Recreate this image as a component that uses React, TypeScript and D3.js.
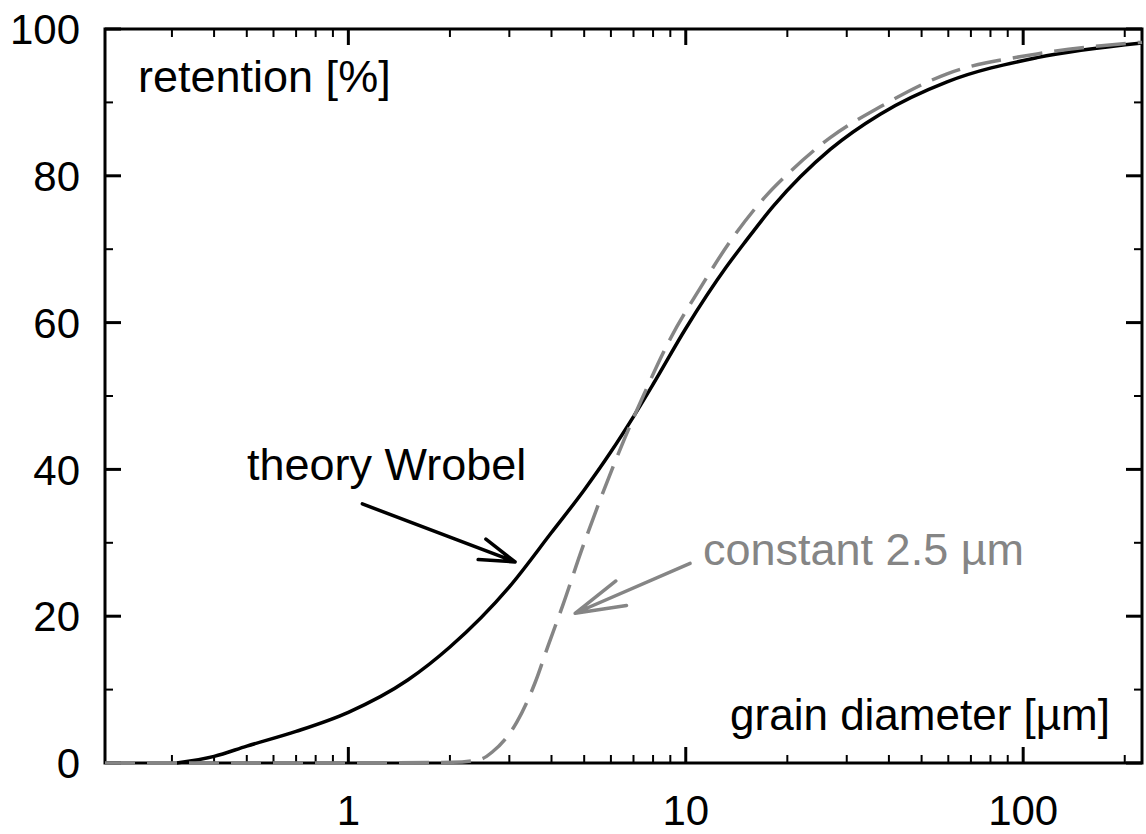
import React, { useEffect, useRef } from 'react';
import * as d3 from 'd3';

// theory Wrobel (solid black)
const wrobelX = [0.31, 0.4, 0.5, 0.7, 1.0, 1.5, 2, 3, 4, 5, 6, 7, 8, 10, 13.2, 15, 18.2, 26.8, 37.7, 59.5, 110, 225];
const wrobelY = [0, 0.9, 2.3, 4.3, 6.9, 11.3, 15.8, 24.0, 31.4, 37.2, 42.4, 47.2, 51.6, 59.2, 67.6, 71.0, 75.9, 83.6, 88.4, 92.8, 96.1, 98.1];

// constant 2.5 µm (dashed grey)
const constX = [0.19, 1.0, 2.04, 2.46, 2.67, 3.16, 3.58, 3.91, 4.33, 4.93, 5.57, 6.6, 7.48, 9.0, 11.0, 13.8, 17.4, 20, 26.8, 37.7, 59.5, 110, 225];
const constY = [0, 0, 0.1, 0.5, 1.5, 5.6, 11.0, 16.0, 21.6, 29.2, 35.8, 44.3, 50.0, 57.8, 64.6, 71.6, 77.4, 80.2, 85.2, 89.4, 93.9, 96.6, 98.2];

const yMajor = [0, 20, 40, 60, 80, 100];
const yMinor = [10, 30, 50, 70, 90];
const xLabels = [1, 10, 100];

// annotation arrows: [startX, startY, tipX, tipY] in data units
const wrobelArrow = [1.1, 35.3, 3.12, 27.4];
const constArrow = [10.3, 27.2, 4.7, 20.4];

const W = 1146;
const H = 834;
const margin = { top: 29, right: 4, bottom: 71, left: 105 };
const FONT = '"Liberation Sans", Arial, sans-serif';
const GREY = '#858585';

const App = () => {
  const svgRef = useRef(null);

  useEffect(() => {
    const svg = d3.select(svgRef.current);
    svg.selectAll('*').remove();

    const x0 = margin.left, x1 = W - margin.right;
    const y0 = H - margin.bottom, y1 = margin.top;

    const x = d3.scaleLog().domain([0.19, 225]).range([x0, x1]);
    const y = d3.scaleLinear().domain([0, 100]).range([y0, y1]);

    const g = svg.append('g');

    // x ticks (top and bottom, pointing inward)
    const xt = x.ticks().filter(v => x(v) > x0 + 12 && x(v) < x1 - 4);
    xt.forEach(v => {
      const major = Math.abs(Math.log10(v) - Math.round(Math.log10(v))) < 1e-9;
      const len = major ? 16 : 8;
      g.append('line').attr('x1', x(v)).attr('x2', x(v)).attr('y1', y0).attr('y2', y0 - len)
        .attr('stroke', '#000').attr('stroke-width', major ? 3 : 2);
      g.append('line').attr('x1', x(v)).attr('x2', x(v)).attr('y1', y1).attr('y2', y1 + len)
        .attr('stroke', '#000').attr('stroke-width', major ? 3 : 2);
    });

    // y ticks (left and right)
    [...yMajor.map(v => [v, 16]), ...yMinor.map(v => [v, 8])].forEach(([v, len]) => {
      const w = len > 10 ? 3 : 2;
      g.append('line').attr('x1', x0).attr('x2', x0 + len).attr('y1', y(v)).attr('y2', y(v))
        .attr('stroke', '#000').attr('stroke-width', w);
      g.append('line').attr('x1', x1).attr('x2', x1 - len).attr('y1', y(v)).attr('y2', y(v))
        .attr('stroke', '#000').attr('stroke-width', w);
    });

    // frame
    g.append('rect').attr('x', x0).attr('y', y1).attr('width', x1 - x0).attr('height', y0 - y1)
      .attr('fill', 'none').attr('stroke', '#000').attr('stroke-width', 3);

    // tick labels
    yMajor.forEach(v => {
      g.append('text').attr('x', 80).attr('y', y(v)).attr('dy', '0.36em')
        .attr('text-anchor', 'end').attr('font-family', FONT).attr('font-size', 42)
        .text(v);
    });
    xLabels.forEach(v => {
      g.append('text').attr('x', x(v)).attr('y', 825)
        .attr('text-anchor', 'middle').attr('font-family', FONT).attr('font-size', 42)
        .text(v);
    });

    // curves
    const line = d3.line()
      .x(d => x(d[0]))
      .y(d => y(d[1]))
      .curve(d3.curveMonotoneX);

    g.append('path')
      .datum(wrobelX.map((v, i) => [v, wrobelY[i]]))
      .attr('fill', 'none').attr('stroke', '#000').attr('stroke-width', 3.5)
      .attr('d', line);

    g.append('path')
      .datum(constX.map((v, i) => [v, constY[i]]))
      .attr('fill', 'none').attr('stroke', GREY).attr('stroke-width', 3.5)
      .attr('stroke-dasharray', '30,12')
      .attr('d', line);

    // annotation arrows
    const arrow = (a, color, head, spread) => {
      const sx = x(a[0]), sy = y(a[1]), tx = x(a[2]), ty = y(a[3]);
      const ang = Math.atan2(sy - ty, sx - tx);
      const p1 = [tx + head * Math.cos(ang + spread), ty + head * Math.sin(ang + spread)];
      const p2 = [tx + head * Math.cos(ang - spread), ty + head * Math.sin(ang - spread)];
      g.append('path')
        .attr('d', `M${sx},${sy}L${tx},${ty}M${p1[0]},${p1[1]}L${tx},${ty}L${p2[0]},${p2[1]}`)
        .attr('fill', 'none').attr('stroke', color).attr('stroke-width', 3.5)
        .attr('stroke-linecap', 'round').attr('stroke-linejoin', 'round');
    };
    arrow(wrobelArrow, '#000', 37, 0.3);
    arrow(constArrow, GREY, 52, 0.26);

    // labels
    g.append('text').attr('x', 138).attr('y', 92)
      .attr('font-family', FONT).attr('font-size', 45).text('retention [%]');
    g.append('text').attr('x', 1110).attr('y', 730).attr('text-anchor', 'end')
      .attr('font-family', FONT).attr('font-size', 44).text('grain diameter [µm]');
    g.append('text').attr('x', 247).attr('y', 480)
      .attr('font-family', FONT).attr('font-size', 45).text('theory Wrobel');
    g.append('text').attr('x', 703).attr('y', 565).attr('fill', GREY)
      .attr('font-family', FONT).attr('font-size', 45).text('constant 2.5 µm');
  }, []);

  return (
    <div style={{ position: 'absolute', left: 0, top: 0 }}>
      <svg ref={svgRef} width={W} height={H} style={{ display: 'block', background: '#fff' }}></svg>
    </div>
  );
};

export default App;
